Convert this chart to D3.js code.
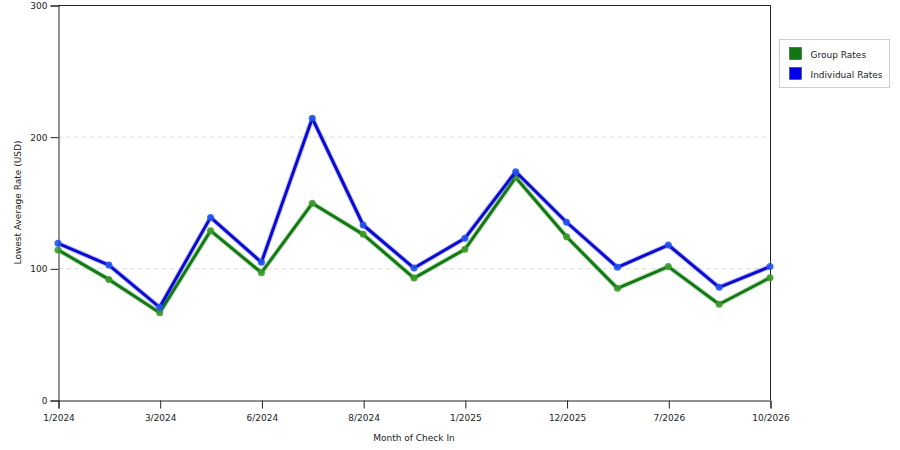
<!DOCTYPE html>
<html>
<head>
<meta charset="utf-8">
<script src="https://cdn.jsdelivr.net/npm/d3@7"></script>
<style>
  body { margin: 0; background: #fff; }
  svg text { font-family: "DejaVu Sans", Verdana, sans-serif; font-size: 9px; fill: #222; }
</style>
</head>
<body>
<svg id="chart" width="900" height="450"></svg>
<script>
// data
const months = ["1/2024", "", "3/2024", "", "6/2024", "", "8/2024", "", "1/2025", "", "12/2025", "", "7/2026", "", "10/2026"];
const groupRates = [114, 91.6, 66.3, 128.6, 96.7, 149.4, 125.8, 92.6, 114.4, 169, 124, 84.8, 101.3, 72.7, 92.9];
const individualRates = [119, 102.5, 70.4, 138.7, 104.6, 214, 132.9, 100.2, 122.8, 173.4, 135, 100.8, 117.7, 85.6, 101.3];
const yTicks = [0, 100, 200, 300];
const seriesNames = ["Group Rates", "Individual Rates"];

const lineColors = ["#127a12", "#0a0ad0"];
const dotColors = ["#3d9a2e", "#2255ee"];

const svg = d3.select("#chart");
const plotLeft = 58, plotRight = 770, plotTop = 5, plotBottom = 400;

const x = d3.scalePoint()
  .domain(d3.range(months.length))
  .range([plotLeft, plotRight]);

const y = d3.scaleLinear()
  .domain([0, 300])
  .range([plotBottom, plotTop]);

// grid
svg.append("g")
  .selectAll("line")
  .data(yTicks.filter(d => d > 0 && d < 300))
  .enter().append("line")
  .attr("x1", plotLeft).attr("x2", plotRight)
  .attr("y1", d => y(d) + 0.5).attr("y2", d => y(d) + 0.5)
  .attr("stroke", "#e2dada")
  .attr("stroke-dasharray", "5,3");

// frame
svg.append("line")
  .attr("x1", plotLeft).attr("x2", plotRight)
  .attr("y1", plotTop + 0.5).attr("y2", plotTop + 0.5)
  .attr("stroke", "#222");
svg.append("line")
  .attr("x1", plotRight + 0.5).attr("x2", plotRight + 0.5)
  .attr("y1", plotTop).attr("y2", plotBottom)
  .attr("stroke", "#222");

// axes
const yAxis = d3.axisLeft(y).tickValues(yTicks).tickSize(8).tickPadding(3);
const yg = svg.append("g")
  .attr("transform", `translate(${plotLeft + 0.5},0.5)`)
  .call(yAxis);

const xTickIdx = d3.range(months.length).filter(i => months[i] !== "");
const xAxis = d3.axisBottom(x).tickValues(xTickIdx).tickFormat(i => months[i]).tickSize(8).tickPadding(6);
const xg = svg.append("g")
  .attr("transform", `translate(0.5,${plotBottom + 0.5})`)
  .call(xAxis);

[yg, xg].forEach(g => {
  g.selectAll("path, line").attr("stroke", "#222");
  g.selectAll("text").attr("fill", "#222").style("font-size", "9px").style("font-family", null);
});

// axis titles
svg.append("text")
  .attr("x", 414).attr("y", 441)
  .attr("text-anchor", "middle")
  .text("Month of Check In");
svg.append("text")
  .attr("transform", `translate(21,${(plotTop + plotBottom) / 2}) rotate(-90)`)
  .attr("text-anchor", "middle")
  .text("Lowest Average Rate (USD)");

// series
const series = [groupRates, individualRates];
const line = d3.line()
  .x((d, i) => x(i))
  .y(d => y(d));

series.forEach((values, s) => {
  const g = svg.append("g");
  g.append("path")
    .datum(values)
    .attr("fill", "none")
    .attr("stroke", lineColors[s])
    .attr("stroke-opacity", 0.25)
    .attr("stroke-width", 5)
    .attr("stroke-linejoin", "round")
    .attr("d", line);
  g.append("path")
    .datum(values)
    .attr("fill", "none")
    .attr("stroke", lineColors[s])
    .attr("stroke-width", 3)
    .attr("stroke-linejoin", "round")
    .attr("d", line);
  g.selectAll("circle")
    .data(values)
    .enter().append("circle")
    .attr("cx", (d, i) => x(i))
    .attr("cy", d => y(d))
    .attr("r", 3.5)
    .attr("fill", dotColors[s])
    .attr("fill-opacity", 0.9);
});

// legend
const legend = svg.append("g").attr("transform", "translate(779.5,39.5)");
legend.append("rect")
  .attr("width", 110).attr("height", 48)
  .attr("fill", "#fff")
  .attr("stroke", "#ccc");
seriesNames.forEach((name, i) => {
  legend.append("rect")
    .attr("x", 10).attr("y", 8 + i * 20)
    .attr("width", 12).attr("height", 12)
    .attr("fill", i === 0 ? "#117711" : "#0000ee")
    .attr("stroke", "#333")
    .attr("stroke-width", 0.5);
  legend.append("text")
    .attr("x", 31).attr("y", 18 + i * 20)
    .text(name);
});
</script>
</body>
</html>
